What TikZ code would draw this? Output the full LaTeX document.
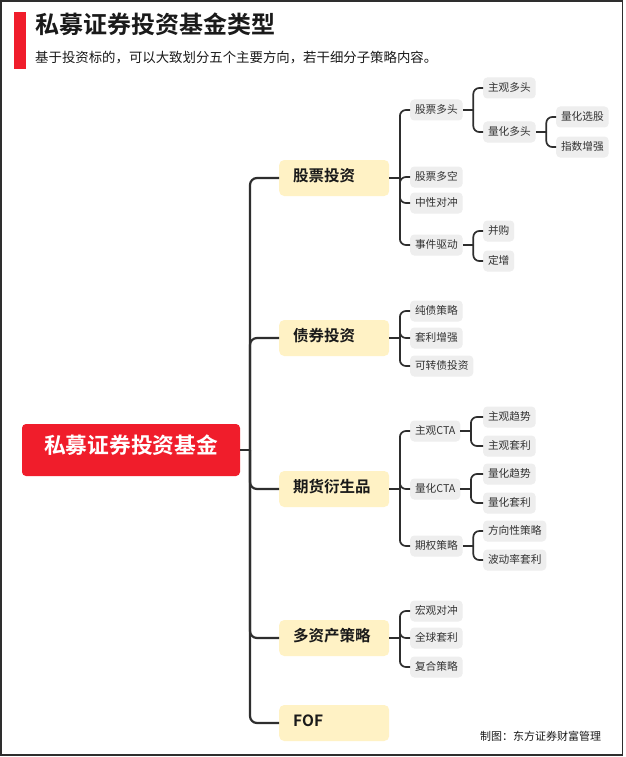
\documentclass[tikz,border=0pt]{standalone}
\usepackage{fontspec}
\setmainfont{Noto Sans CJK SC}[BoldFont={Noto Sans CJK SC Bold}]
\definecolor{rootred}{HTML}{F01D2B}
\definecolor{yel}{HTML}{FFF2C5}
\definecolor{leafgray}{HTML}{EEEEEE}
\definecolor{ink}{HTML}{333333}
\definecolor{dark}{HTML}{1A1A1A}
\definecolor{linec}{HTML}{2E2E2E}
\newcommand\mkbranch[2]{%
  \coordinate (j#1) at ([xshift=10.5pt]#1.east);
  \draw[conn] (#1.east) -- (j#1);
  \foreach \ch in {#2} {\draw[conn,rounded corners=6pt] (j#1) |- (\ch.west);}
}
\tikzset{
  l0/.style={fill=rootred, rounded corners=4pt, text=white,
    font=\bfseries\fontsize{21.75}{23}\selectfont,
    minimum width=218pt, minimum height=52pt, inner sep=0pt,
    text height=0.88em, text depth=0.12em},
  l1/.style={fill=yel, rounded corners=5pt, text=dark,
    font=\bfseries\fontsize{15.5}{17}\selectfont,
    text width=82pt, inner xsep=14pt, inner ysep=0pt, align=left,
    minimum height=36pt, anchor=west,
    text height=0.88em, text depth=0.12em},
  leaf/.style={fill=leafgray, rounded corners=4pt, text=ink,
    font=\fontsize{10.7}{12}\selectfont,
    minimum height=21pt, inner xsep=4.8pt, inner ysep=0pt, anchor=west,
    text height=0.88em, text depth=0.12em},
  conn/.style={draw=linec, line width=1.7pt},
  trunk/.style={draw=linec, line width=2.2pt, rounded corners=7pt},
}
\begin{document}
\begin{tikzpicture}[x=1pt,y=-1pt]
\useasboundingbox (0,0) rectangle (625,757);
\fill[white] (0,0) rectangle (625,757);
\draw[line width=1.6pt, draw=linec] (0.8,0.8) rectangle (622.6,754.8);
% header
\fill[rootred] (14,12) rectangle (26,69);
\node[anchor=west, inner sep=0pt, text=dark, font=\bfseries\fontsize{24}{26}\selectfont,
      text height=0.88em, text depth=0.12em] (title) at (35,29.5) {私募证券投资基金类型};
\node[anchor=west, inner sep=0pt, text=dark, font=\fontsize{13.4}{15}\selectfont,
      text height=0.88em, text depth=0.12em] (subtitle) at (35,58.5) {基于投资标的，可以大致划分五个主要方向，若干细分子策略内容。};
% root
\node[l0] (root) at (131,450) {私募证券投资基金};
% level 1
\node[l1] (s1) at (279,178) {股票投资};
\node[l1] (s2) at (279,338) {债券投资};
\node[l1] (s3) at (279,489) {期货衍生品};
\node[l1] (s4) at (279,638) {多资产策略};
\node[l1] (s5) at (279,723) {FOF};
% level 2
\node[leaf] (a1) at (410,110) {股票多头};
\node[leaf] (a2) at (410,177) {股票多空};
\node[leaf] (a3) at (410,203) {中性对冲};
\node[leaf] (a4) at (410,245) {事件驱动};
\node[leaf] (b1) at (410,311) {纯债策略};
\node[leaf] (b2) at (410,338) {套利增强};
\node[leaf] (b3) at (410,366) {可转债投资};
\node[leaf] (c1) at (410,431) {主观CTA};
\node[leaf] (c2) at (410,489) {量化CTA};
\node[leaf] (c3) at (410,546) {期权策略};
\node[leaf] (d1) at (410,611) {宏观对冲};
\node[leaf] (d2) at (410,638) {全球套利};
\node[leaf] (d3) at (410,667) {复合策略};
% level 3
\node[leaf] (a11) at (483,88) {主观多头};
\node[leaf] (a12) at (483,132) {量化多头};
\node[leaf] (a41) at (483,231) {并购};
\node[leaf] (a42) at (483,261) {定增};
\node[leaf] (c11) at (483,417) {主观趋势};
\node[leaf] (c12) at (483,446) {主观套利};
\node[leaf] (c21) at (483,474) {量化趋势};
\node[leaf] (c22) at (483,503) {量化套利};
\node[leaf] (c31) at (483,531) {方向性策略};
\node[leaf] (c32) at (483,560) {波动率套利};
% level 4
\node[leaf] (a121) at (556,117) {量化选股};
\node[leaf] (a122) at (556,147) {指数增强};
% footer
\node[anchor=west, inner sep=0pt, text=dark, font=\fontsize{11}{12}\selectfont,
      text height=0.88em, text depth=0.12em] (foot) at (480,737) {制图：东方证券财富管理};
% trunk
\coordinate (jroot) at (250,450);
\draw[conn, line width=2.2pt] (root.east) -- (jroot);
\foreach \s in {s1,s2,s3,s4,s5} {\draw[trunk] (jroot) |- (\s.west);}
% branches
\mkbranch{s1}{a1,a2,a3,a4}
\mkbranch{s2}{b1,b2,b3}
\mkbranch{s3}{c1,c2,c3}
\mkbranch{s4}{d1,d2,d3}
\mkbranch{a1}{a11,a12}
\mkbranch{a4}{a41,a42}
\mkbranch{a12}{a121,a122}
\mkbranch{c1}{c11,c12}
\mkbranch{c2}{c21,c22}
\mkbranch{c3}{c31,c32}
\end{tikzpicture}
\end{document}
